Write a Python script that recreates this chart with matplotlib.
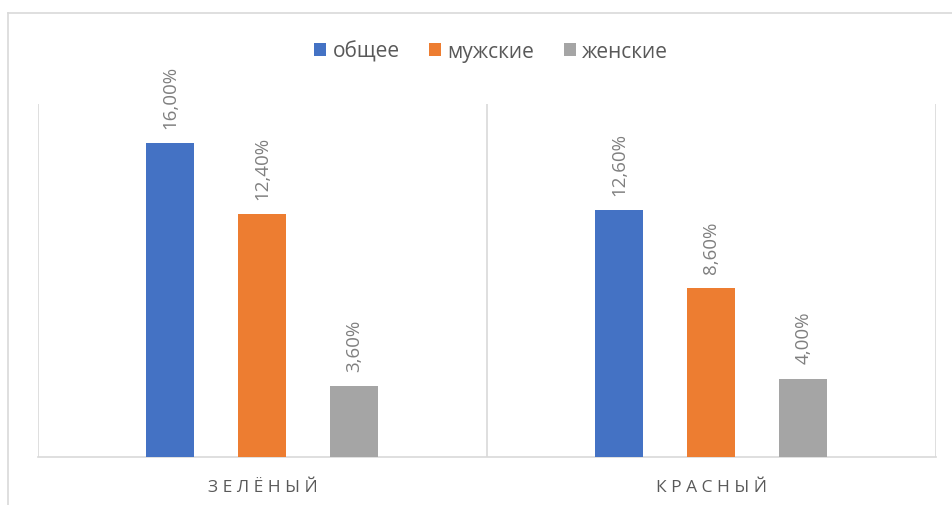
import matplotlib.pyplot as plt
from matplotlib.lines import Line2D
import numpy as np

plt.rcParams['font.family'] = ['Open Sans', 'DejaVu Sans']

# data
categories = ["ЗЕЛЁНЫЙ", "КРАСНЫЙ"]
series_names = ["общее", "мужские", "женские"]
values = {
    "общее": [16.0, 12.6],
    "мужские": [12.4, 8.6],
    "женские": [3.6, 4.0],
}
colors = ["#4472c4", "#ed7d31", "#a5a5a5"]

W, H = 953, 506
fig = plt.figure(figsize=(W / 100, H / 100), dpi=100)

# plot area in pixels
left, right, top, bottom = 38, 936, 105, 458
ax = fig.add_axes([left / W, 1 - bottom / H, (right - left) / W, (bottom - top) / H])

x = np.arange(len(categories))
bar_w = 48 / 449
step = 92 / 449

for i, name in enumerate(series_names):
    pos = x + (i - 1) * step
    bars = ax.bar(pos, values[name], width=bar_w, color=colors[i], label=name, zorder=3)
    for b, v in zip(bars, values[name]):
        ax.annotate(f"{v:.2f}%".replace(".", ","), (b.get_x() + b.get_width() / 2, v),
                    xytext=(0, 11), textcoords="offset points", rotation=90,
                    ha="center", va="bottom", fontsize=13.5, color="#7f7f7f")

ax.set_xlim(-0.5, len(categories) - 0.5)
ax.set_ylim(0, 18)
ax.set_yticks([])
ax.set_xticks([])
for s in ["top", "right", "left"]:
    ax.spines[s].set_visible(False)
ax.spines["bottom"].set_color("#d9d9d9")
ax.spines["bottom"].set_linewidth(1.2)

# category separators
for xs in np.arange(-0.5, len(categories), 1.0):
    ax.axvline(xs, color="#d9d9d9", lw=1.2, zorder=1)

# category labels with letter spacing
for xi, cat in zip(x, categories):
    ax.text(xi, -0.085, " ".join(cat), transform=ax.get_xaxis_transform(),
            ha="center", va="center", fontsize=12.5, color="#595959")

leg = fig.legend(loc="center", bbox_to_anchor=(491 / W, 1 - 52 / H), ncol=3, frameon=False,
                 fontsize=15, handlelength=0.6, handleheight=0.6, handletextpad=0.3,
                 columnspacing=1.4, labelcolor="#595959")

# chart border
fig.add_artist(Line2D([8 / W, 8 / W], [0, 1 - 14 / H], color="#d9d9d9", lw=1.2))
fig.add_artist(Line2D([8 / W, 1], [1 - 14 / H, 1 - 14 / H], color="#d9d9d9", lw=1.2))

fig.savefig("out.png", dpi=100)
